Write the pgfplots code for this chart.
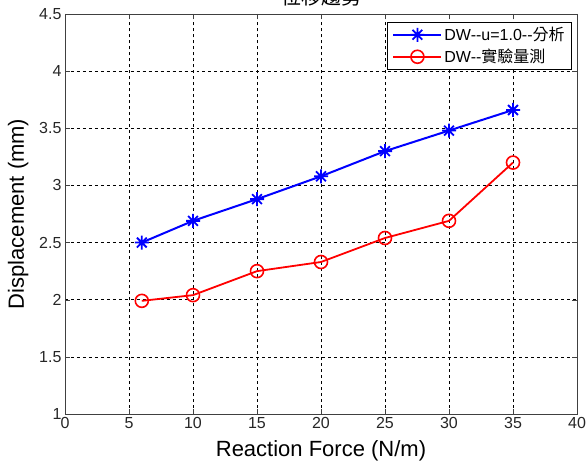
\documentclass[border=0pt]{standalone}
\usepackage{pgfplots}
\pgfplotsset{compat=1.18}
\usepackage{fontspec}
\setmainfont{Liberation Sans}
\newfontfamily\cjk{Noto Sans CJK TC}
\pgfdeclareplotmark{mlstar}{%
  \pgfpathmoveto{\pgfqpoint{-\pgfplotmarksize}{0pt}}\pgfpathlineto{\pgfqpoint{\pgfplotmarksize}{0pt}}%
  \pgfpathmoveto{\pgfqpoint{0pt}{-\pgfplotmarksize}}\pgfpathlineto{\pgfqpoint{0pt}{\pgfplotmarksize}}%
  \pgfpathmoveto{\pgfqpoint{-0.7\pgfplotmarksize}{-0.7\pgfplotmarksize}}\pgfpathlineto{\pgfqpoint{0.7\pgfplotmarksize}{0.7\pgfplotmarksize}}%
  \pgfpathmoveto{\pgfqpoint{-0.7\pgfplotmarksize}{0.7\pgfplotmarksize}}\pgfpathlineto{\pgfqpoint{0.7\pgfplotmarksize}{-0.7\pgfplotmarksize}}%
  \pgfusepathqstroke}
\begin{document}
\begin{tikzpicture}[x=1bp,y=1bp]
\begin{axis}[
  name=ax,
  scale only axis,
  width=512bp, height=400bp,
  xmin=0, xmax=40, ymin=1, ymax=4.5,
  xtick={0,5,...,40},
  ytick={1,1.5,...,4.5},
  yticklabels={1,1.5,2,2.5,3,3.5,4,4.5},
  /pgf/number format/assume math mode=true,
  tick label style={font=\fontsize{16bp}{18bp}\selectfont, text=black!85},
  tick align=inside,
  major tick length=5bp,
  axis line style={black!75},
  every tick/.style={black!75},
  grid=major,
  major grid style={black, dashed, line width=0.6bp},
  xlabel={Reaction Force (N/m)},
  ylabel={Displacement (mm)},
  label style={font=\fontsize{22bp}{24bp}\selectfont},
  xlabel style={yshift=-5bp},
  ylabel style={yshift=4bp},
  title={\cjk 位移趨勢},
  title style={font=\fontsize{20bp}{22bp}\selectfont, yshift=-2bp},
  legend style={at={(rel axis cs:0.990,0.98)}, anchor=north east,
    font=\fontsize{16bp}{19bp}\selectfont, draw=black, line width=0.6bp,
    inner xsep=5bp, inner ysep=3bp, row sep=3bp},
  legend cell align=left,
  legend image code/.code={\draw[mark repeat=2,mark phase=2] plot coordinates {(0bp,0bp) (24bp,0bp) (48bp,0bp)};},
]
\addplot[blue, line width=2bp, mark=mlstar, mark size=7bp, mark options={line width=1.8bp}]
  coordinates {(6,2.50) (10,2.69) (15,2.88) (20,3.08) (25,3.30) (30,3.48) (35,3.66)};
\addlegendentry{DW-{}-u=1.0-{}-{\cjk 分析}}
\addplot[red, line width=1.8bp, mark=o, mark size=6.5bp, mark options={line width=1.6bp}]
  coordinates {(6,1.99) (10,2.04) (15,2.25) (20,2.33) (25,2.54) (30,2.69) (35,3.20)};
\addlegendentry{DW-{}-{\cjk 實驗量測}}
\end{axis}
\pgfresetboundingbox
\path[use as bounding box] ([xshift=-65bp,yshift=-49bp]ax.south west) rectangle ([xshift=9bp,yshift=14bp]ax.north east);
\end{tikzpicture}
\end{document}
